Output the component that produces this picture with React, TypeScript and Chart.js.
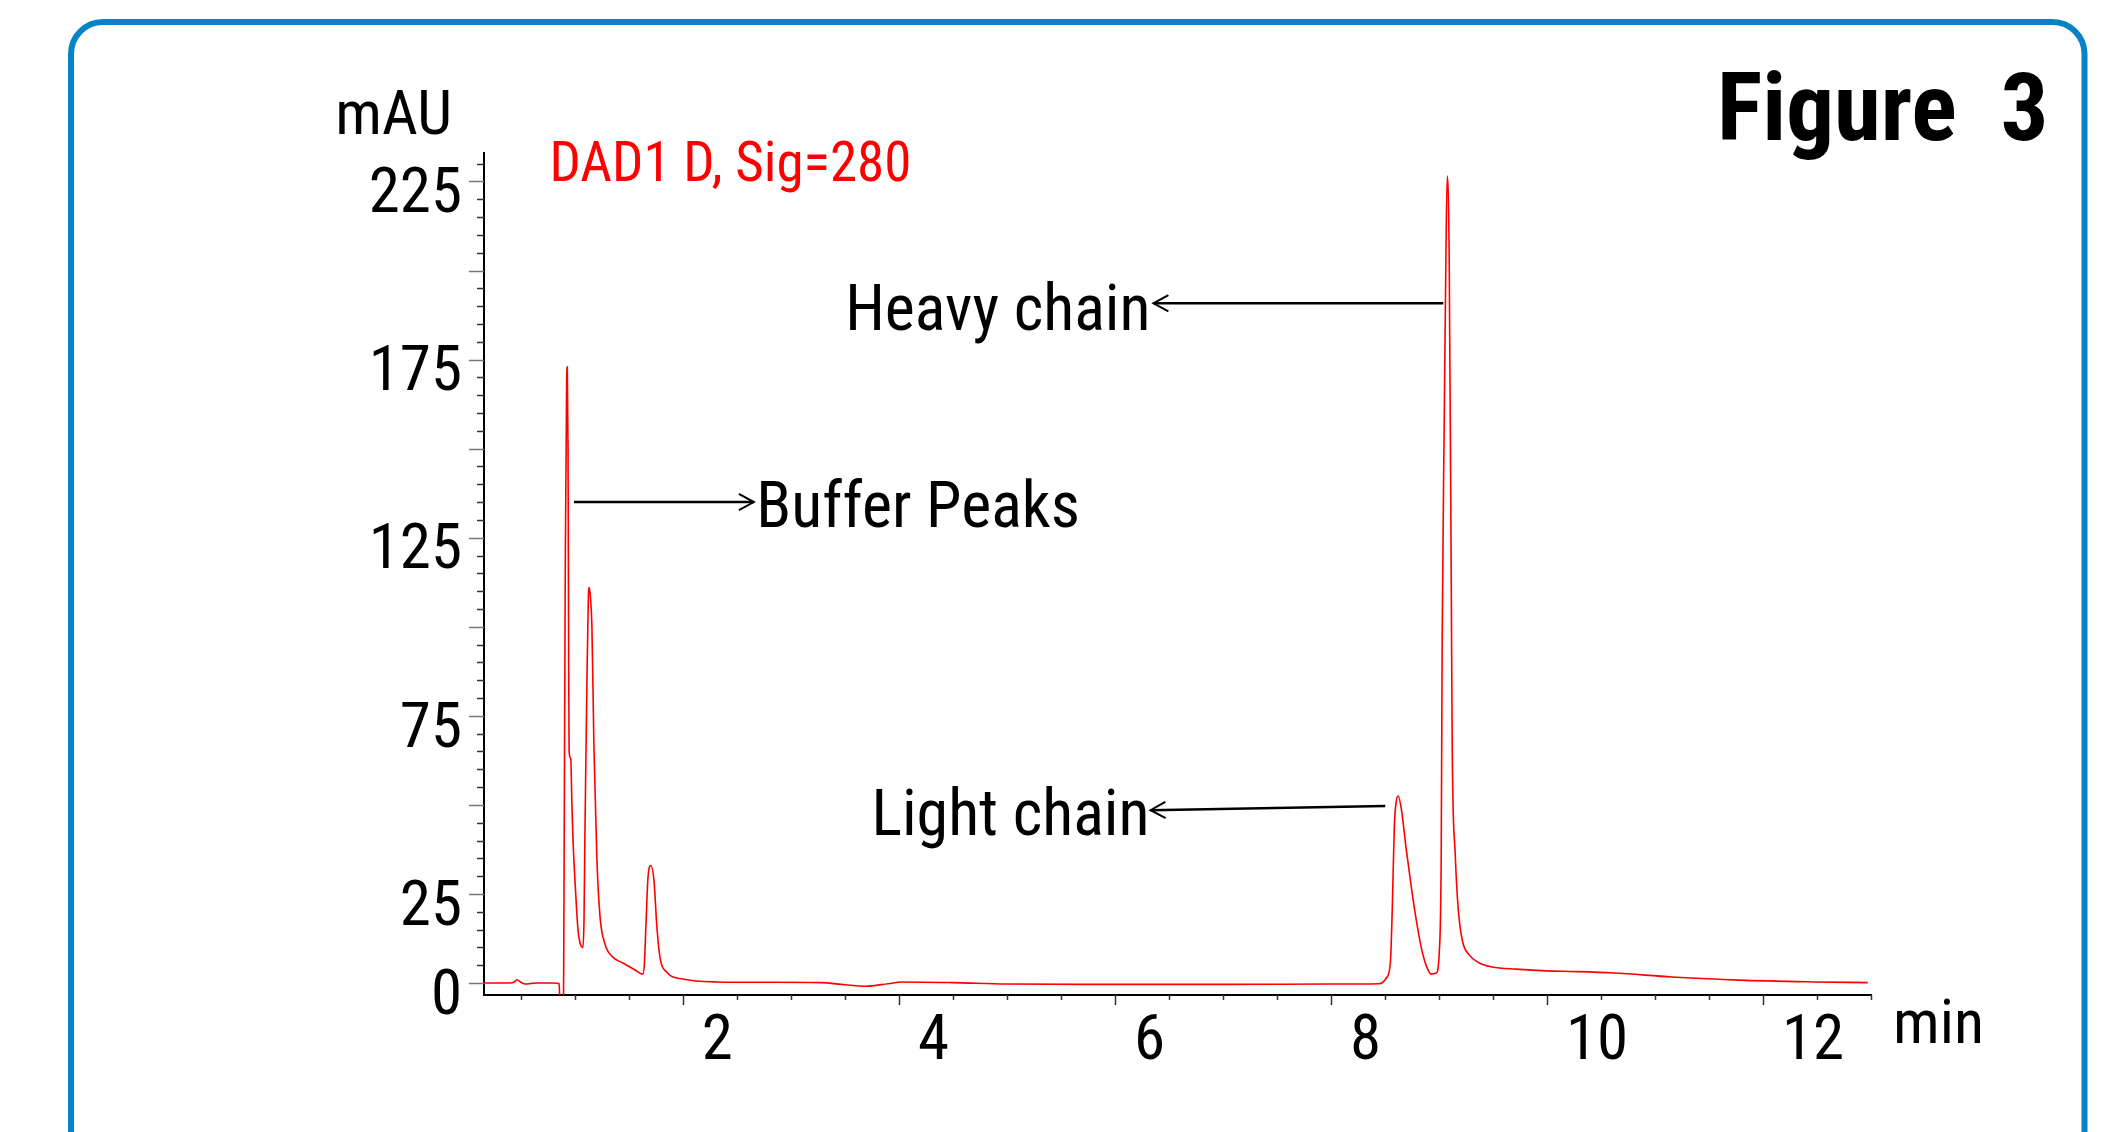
import React, { useEffect, useRef } from 'react';
import { Chart, registerables } from 'chart.js';

Chart.register(...registerables);

const W = 2104;
const H = 1132;
const FAMILY = 'Roboto, "DejaVu Sans Condensed", sans-serif';

// Retention time (min)
const retentionTime = [
  0.159, 0.40, 0.44, 0.464, 0.50, 0.54, 0.60, 0.65, 0.80, 0.855,
  0.862, 0.895, 0.899, 0.912, 0.924, 0.930, 0.937, 0.943, 0.947, 0.962,
  0.973, 0.982, 1.010, 1.029, 1.050, 1.075, 1.085, 1.093, 1.112, 1.125,
  1.133, 1.145, 1.158, 1.177, 1.204, 1.232, 1.278, 1.343, 1.445, 1.55,
  1.630, 1.645, 1.658, 1.676, 1.704, 1.732, 1.759, 1.787, 1.852, 2.0,
  2.315, 2.8, 3.28, 3.5, 3.69, 3.90, 4.03, 4.5, 5.0, 6.0,
  7.0, 8.0, 8.448, 8.513, 8.550, 8.568, 8.587, 8.605, 8.623, 8.651,
  8.697, 8.744, 8.790, 8.836, 8.883, 8.929, 8.975, 9.003, 9.021, 9.030,
  9.049, 9.067, 9.077, 9.095, 9.114, 9.123, 9.151, 9.178, 9.216, 9.280,
  9.373, 9.493, 9.715, 9.993, 10.27, 10.62, 11.16, 11.78, 12.48, 12.97,
];

// Absorbance (mAU), DAD1 D, Sig=280
const absorbance = [
  0, 0, 0.3, 0.9, 0.2, -0.3, -0.1, 0, 0, -0.2,
  -6, -6, 20, 120, 168, 173, 150, 90, 65, 63,
  50, 41, 24, 15, 11, 10, 18, 41, 85, 108,
  111, 108, 100, 66, 35, 19, 11, 7.5, 5.6, 3.8,
  2.5, 6, 16, 29, 33, 29, 16, 7.5, 3, 1.1,
  0.3, 0.2, 0.1, -0.5, -0.9, -0.2, 0.3, 0.1, -0.3, -0.4,
  -0.4, -0.3, -0.2, 1.4, 5.6, 21, 44, 51, 52.5, 49,
  37.6, 27, 17.7, 10, 4.8, 2.5, 2.8, 8.7, 36, 97,
  158, 211, 226.5, 203, 112, 66, 36, 21, 12, 7.9,
  5.6, 4.5, 3.9, 3.4, 3.2, 2.8, 1.7, 0.8, 0.3, 0.1,
];

const xTickLabels = [2, 4, 6, 8, 10, 12];
const yTickLabels = [0, 25, 75, 125, 175, 225];
const xMinorTicks = [0.5, 1, 1.5, 2, 2.5, 3, 3.5, 4, 4.5, 5, 5.5, 6, 6.5, 7, 7.5, 8, 8.5, 9, 9.5, 10, 10.5, 11, 11.5, 12, 12.5, 13];
const yMinorTicks = [0, 5, 10, 15, 20, 25, 30, 35, 40, 45, 50, 55, 60, 65, 70, 75, 80, 85, 90, 95, 100, 105, 110, 115, 120, 125, 130, 135, 140, 145, 150, 155, 160, 165, 170, 175, 180, 185, 190, 195, 200, 205, 210, 215, 220, 225, 230];

const annotationLabels = ['Buffer Peaks', 'Heavy chain', 'Light chain'];
const signalLabel = 'DAD1 D, Sig=280';
const figureLabel = 'Figure  3';
const yUnit = 'mAU';
const xUnit = 'min';

const annotations = [
  { text: annotationLabels[0], from: [0.992, 135], to: [2.657, 135], at: [2.68, 128], align: 'left' },
  { text: annotationLabels[1], from: [9.04, 190.8], to: [6.357, 190.8], at: [6.33, 183.2], align: 'right' },
  { text: annotationLabels[2], from: [8.503, 49.7], to: [6.33, 48.5], at: [6.32, 41.5], align: 'right' },
];

function setFont(ctx: any, spec: string) {
  ctx.font = `${spec} ${FAMILY}`;
  try { ctx.fontStretch = 'condensed'; } catch (e) { /* ignore */ }
}

const overlayPlugin = {
  id: 'overlay',
  beforeDraw(chart: any) {
    const ctx = chart.ctx;
    ctx.save();
    ctx.strokeStyle = '#0784C6';
    ctx.lineWidth = 6;
    ctx.beginPath();
    (ctx as any).roundRect(71, 22, 2013.5, 1400, 32);
    ctx.stroke();
    ctx.restore();
  },
  afterDraw(chart: any) {
    const ctx = chart.ctx;
    const xs = chart.scales.x;
    const ys = chart.scales.y;
    const area = chart.chartArea;
    ctx.save();
    // y tick marks
    ctx.lineWidth = 1.5;
    yMinorTicks.forEach((v) => {
      const py = Math.round(ys.getPixelForValue(v)) + 0.5;
      const major = v % 25 === 0;
      ctx.strokeStyle = major ? '#777' : '#333';
      ctx.beginPath();
      ctx.moveTo(area.left - (major ? 15 : 7), py);
      ctx.lineTo(area.left, py);
      ctx.stroke();
    });
    // x tick marks
    xMinorTicks.forEach((v) => {
      const px = Math.round(xs.getPixelForValue(v)) + 0.5;
      const major = v % 2 === 0;
      ctx.strokeStyle = '#333';
      ctx.beginPath();
      ctx.moveTo(px, area.bottom);
      ctx.lineTo(px, area.bottom + (major ? 10 : 5));
      ctx.stroke();
    });

    // annotations with arrows
    ctx.strokeStyle = '#000';
    ctx.fillStyle = '#000';
    annotations.forEach((a) => {
      const x1 = xs.getPixelForValue(a.from[0]);
      const y1 = ys.getPixelForValue(a.from[1]);
      const x2 = xs.getPixelForValue(a.to[0]);
      const y2 = ys.getPixelForValue(a.to[1]);
      ctx.lineWidth = 2.5;
      ctx.beginPath();
      ctx.moveTo(x1, y1);
      ctx.lineTo(x2, y2);
      ctx.stroke();
      const ang = Math.atan2(y2 - y1, x2 - x1);
      const hl = 17;
      const hw = 0.5;
      ctx.lineWidth = 2;
      ctx.beginPath();
      ctx.moveTo(x2 - hl * Math.cos(ang - hw), y2 - hl * Math.sin(ang - hw));
      ctx.lineTo(x2, y2);
      ctx.lineTo(x2 - hl * Math.cos(ang + hw), y2 - hl * Math.sin(ang + hw));
      ctx.stroke();
      setFont(ctx, 'condensed 64px');
      ctx.textAlign = a.align;
      ctx.textBaseline = 'alphabetic';
      ctx.fillText(a.text, xs.getPixelForValue(a.at[0]), ys.getPixelForValue(a.at[1]));
    });

    // signal label
    ctx.fillStyle = '#FF0000';
    setFont(ctx, 'condensed 55px');
    ctx.textAlign = 'left';
    ctx.textBaseline = 'alphabetic';
    ctx.fillText(signalLabel, xs.getPixelForValue(0.765), ys.getPixelForValue(225));

    // axis units
    ctx.fillStyle = '#000';
    setFont(ctx, 'condensed 62px');
    ctx.textAlign = 'right';
    ctx.fillText(yUnit, area.left - 32, area.top - 19);
    ctx.textAlign = 'left';
    ctx.fillText(xUnit, area.right + 22, area.bottom + 48);

    // figure label
    setFont(ctx, 'bold condensed 95px');
    ctx.textAlign = 'left';
    ctx.fillText(figureLabel, 1717, 140);
    ctx.restore();
  },
};

export default function App() {
  const canvasRef = useRef<HTMLCanvasElement | null>(null);

  useEffect(() => {
    const canvas = canvasRef.current;
    if (!canvas) return;
    const tickFont = { family: FAMILY, size: 63, weight: 'condensed' };
    const chart = new Chart(canvas, {
      type: 'line',
      data: {
        datasets: [
          {
            label: signalLabel,
            data: retentionTime.map((t, i) => ({ x: t, y: absorbance[i] })),
            borderColor: '#FF0000',
            borderWidth: 1.6,
            pointRadius: 0,
            fill: false,
            cubicInterpolationMode: 'monotone',
          },
        ],
      },
      options: {
        animation: false,
        responsive: false,
        maintainAspectRatio: false,
        devicePixelRatio: 1,
        events: [],
        layout: { padding: { left: 0, top: 153, right: 233, bottom: 0 } },
        plugins: {
          legend: { display: false },
          tooltip: { enabled: false },
          title: { display: false },
        },
        scales: {
          x: {
            type: 'linear',
            min: 0.159,
            max: 13.0,
            grid: { display: false, drawTicks: false },
            border: { display: true, color: '#000', width: 2 },
            afterBuildTicks: (s: any) => {
              s.ticks = xTickLabels.map((v) => ({ value: v }));
            },
            afterFit: (s: any) => {
              s.height = H - 995;
              s.paddingLeft = 0;
              s.paddingRight = 0;
            },
            ticks: {
              font: tickFont,
              color: '#000',
              padding: 10,
              align: 'start',
              labelOffset: 19,
              maxRotation: 0,
              autoSkip: false,
              callback: (v: any) => String(v),
            },
          },
          y: {
            type: 'linear',
            min: -3.37,
            max: 233.0,
            grid: { display: false, drawTicks: false },
            border: { display: true, color: '#000', width: 2 },
            afterBuildTicks: (s: any) => {
              s.ticks = yTickLabels.map((v) => ({ value: v }));
            },
            afterFit: (s: any) => {
              s.width = 484;
              s.paddingTop = 0;
              s.paddingBottom = 0;
            },
            ticks: {
              font: tickFont,
              color: '#000',
              padding: 22,
              labelOffset: 15,
              autoSkip: false,
              callback: (v: any) => String(v),
            },
          },
        },
      },
      plugins: [overlayPlugin],
    } as any);
    return () => chart.destroy();
  }, []);

  return (
    <div style={{ position: 'fixed', left: 0, top: 0, width: W, height: H, overflow: 'hidden', background: '#fff' }}>
      <canvas ref={canvasRef} width={W} height={H} style={{ width: W, height: H, display: 'block' }} />
    </div>
  );
}
